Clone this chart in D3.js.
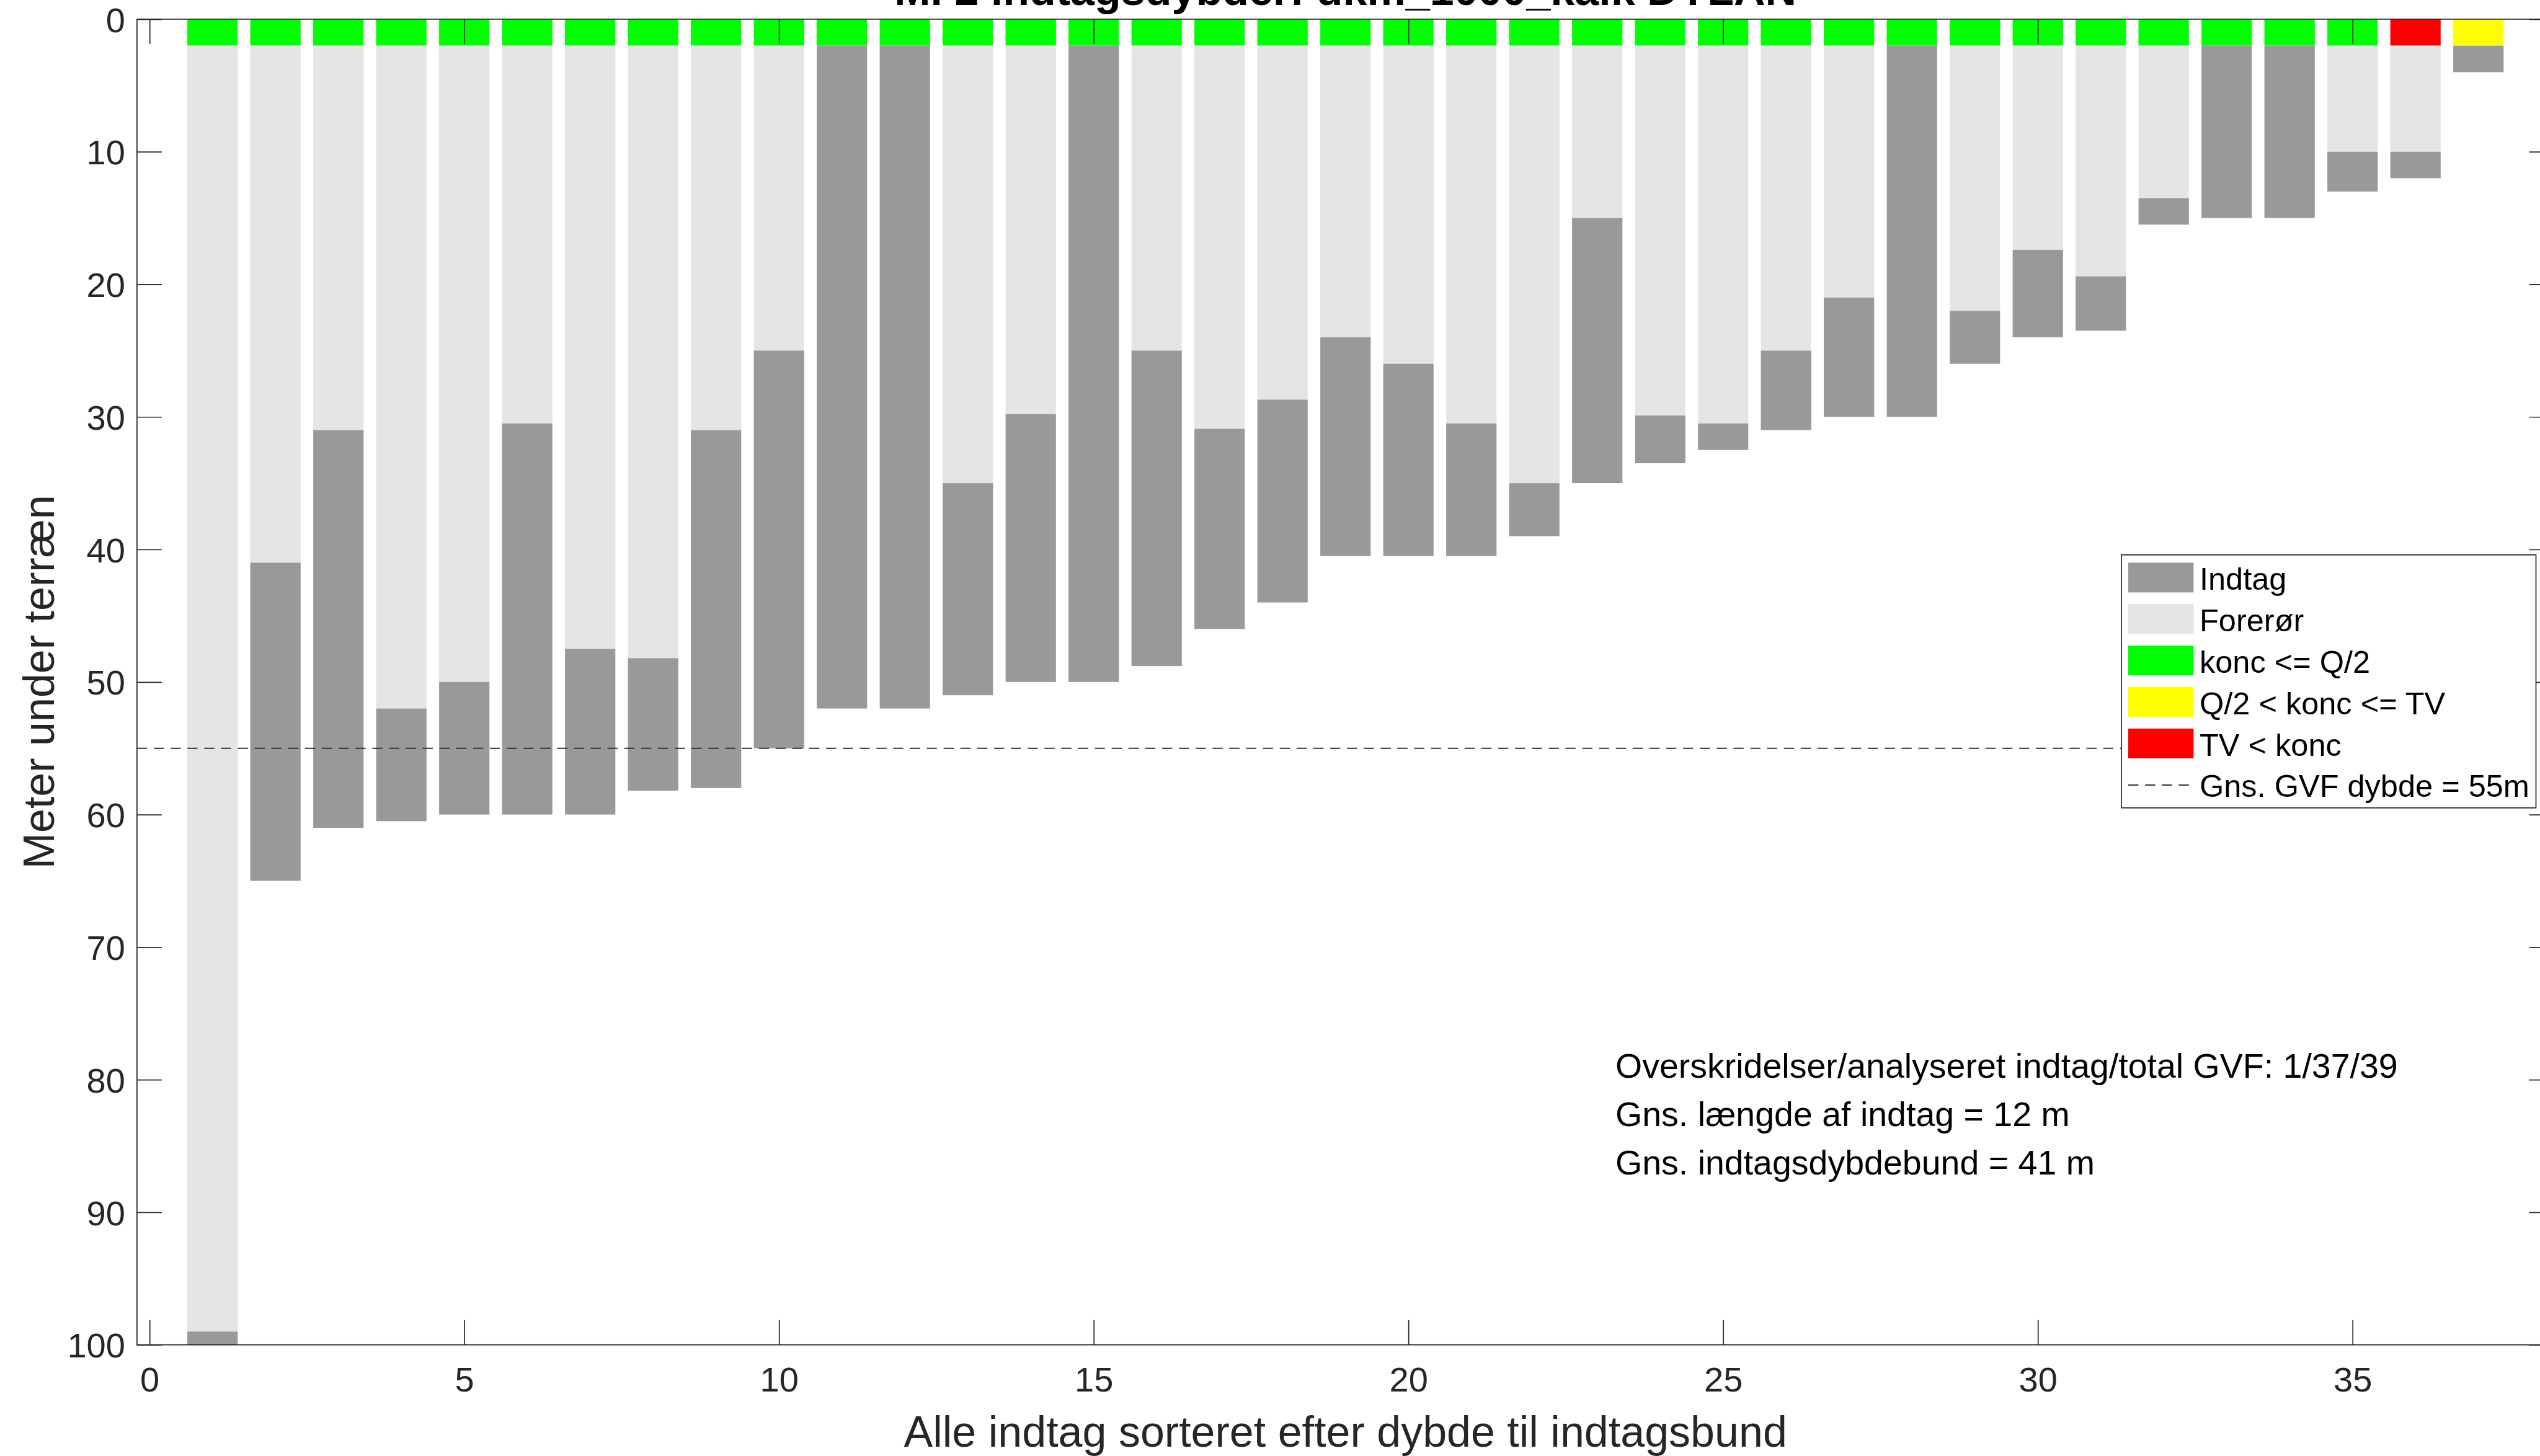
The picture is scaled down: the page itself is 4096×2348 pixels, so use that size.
<!DOCTYPE html>
<html>
<head>
<meta charset="utf-8">
<script src="https://cdn.jsdelivr.net/npm/d3@7"></script>
<style>
  html, body { margin: 0; padding: 0; background: #fff; overflow: hidden; }
  svg { display: block; font-family: "Liberation Sans", Arial, Helvetica, sans-serif; }
</style>
</head>
<body>
<svg id="chart" width="4096" height="2348"></svg>
<script>
// intake depths (m under terrain), sorted by depth to bottom of intake
var indtagTop = [99, 41, 31, 52, 50, 30.5, 47.5, 48.2, 31, 25,
                 2, 2, 35, 29.8, 2, 25, 30.9, 28.7, 24, 26,
                 30.5, 35, 15, 29.9, 30.5, 25, 21, 2, 22, 17.4,
                 19.4, 13.5, 2, 2, 10, 10, 2],
  indtagBund = [100, 65, 61, 60.5, 60, 60, 60, 58.2, 58, 55,
                52, 52, 51, 50, 50, 48.8, 46, 44, 40.5, 40.5,
                40.5, 39, 35, 33.5, 32.5, 31, 30, 30, 26, 24,
                23.5, 15.5, 15, 15, 13, 12, 4],
  // concentration class per intake (not "status": that name is taken by window)
  koncKlasse = ["q2", "q2", "q2", "q2", "q2", "q2", "q2", "q2", "q2", "q2",
                "q2", "q2", "q2", "q2", "q2", "q2", "q2", "q2", "q2", "q2",
                "q2", "q2", "q2", "q2", "q2", "q2", "q2", "q2", "q2", "q2",
                "q2", "q2", "q2", "q2", "q2", "tvover", "tv"],
  klasseBand = [0, 2],
  gvfDybde = 55;

var xTicks = [0, 5, 10, 15, 20, 25, 30, 35],
  yTicks = [0, 10, 20, 30, 40, 50, 60, 70, 80, 90, 100],
  xDomain = [-0.2, 38.2],
  yDomain = [0, 100];

var klasseKeys = ["q2", "tv", "tvover"],
  klasseColors = ["#00ff00", "#ffff00", "#ff0000"],
  legendLabels = ["Indtag", "Forerør", "konc <= Q/2", "Q/2 < konc <= TV", "TV < konc", "Gns. GVF dybde = 55m"],
  infoLines = ["Overskridelser/analyseret indtag/total GVF: 1/37/39",
               "Gns. længde af indtag = 12 m",
               "Gns. indtagsdybdebund = 41 m"],
  titleText = "M. 2 indtagsdybder: dkm_1000_kalk DYLAN",
  xLabel = "Alle indtag sorteret efter dybde til indtagsbund",
  yLabel = "Meter under terræn";

var col = {indtag: "#999999", forer: "#e5e5e5", axis: "#262626", dash: "#333333"},
  barWidth = 0.8,
  tick = 40;

var svg = d3.select("#chart");

var x = d3.scaleLinear().domain(xDomain).range([220.9, 4118.5]),
  y = d3.scaleLinear().domain(yDomain).range([30.9, 2168.7]),
  color = d3.scaleOrdinal().domain(klasseKeys).range(klasseColors);

var rows = indtagTop.map(function(top, i){
  return {nr: i + 1, top: top, bund: indtagBund[i], klasse: koncKlasse[i]};
});

var bx = function(d){ return x(d.nr - barWidth / 2); },
  bw = function(d){ return x(d.nr + barWidth / 2) - x(d.nr - barWidth / 2); };

// bars: class band, forerør, indtag
var bars = svg.append("g").attr("class", "bars");

bars.selectAll("rect.klasse")
  .data(rows).enter().append("rect")
  .attr("class", "klasse")
  .attr("x", bx).attr("width", bw)
  .attr("y", y(klasseBand[0]))
  .attr("height", y(klasseBand[1]) - y(klasseBand[0]))
  .attr("fill", function(d){ return color(d.klasse); });

bars.selectAll("rect.forer")
  .data(rows).enter().append("rect")
  .attr("class", "forer")
  .attr("x", bx).attr("width", bw)
  .attr("y", y(klasseBand[1]))
  .attr("height", function(d){ return Math.max(0, y(d.top) - y(klasseBand[1])); })
  .attr("fill", col.forer);

bars.selectAll("rect.indtag")
  .data(rows).enter().append("rect")
  .attr("class", "indtag")
  .attr("x", bx).attr("width", bw)
  .attr("y", function(d){ return y(d.top); })
  .attr("height", function(d){ return y(d.bund) - y(d.top); })
  .attr("fill", col.indtag);

// mean GVF depth
svg.append("line")
  .attr("x1", x(xDomain[0])).attr("x2", x(xDomain[1]))
  .attr("y1", y(gvfDybde)).attr("y2", y(gvfDybde))
  .attr("stroke", col.dash).attr("stroke-width", 2)
  .attr("stroke-dasharray", "16.4,10.7");

// axes, ticks pointing inward on all four sides
var styleAxis = function(g){
  g.select(".domain").remove();
  g.selectAll(".tick line").attr("stroke", col.axis).attr("stroke-width", 1.7);
  g.selectAll(".tick text").attr("fill", col.axis)
    .style("font-size", "56px").style("font-family", "Liberation Sans, Arial, sans-serif");
};

svg.append("g")
  .attr("transform", "translate(0," + y(yDomain[1]) + ")")
  .call(d3.axisBottom(x).tickValues(xTicks).tickSize(-tick).tickPadding(36))
  .call(styleAxis);

svg.append("g")
  .attr("transform", "translate(0," + y(yDomain[0]) + ")")
  .call(d3.axisTop(x).tickValues(xTicks).tickSize(-tick).tickFormat(""))
  .call(styleAxis);

svg.append("g")
  .attr("transform", "translate(" + x(xDomain[0]) + ",0)")
  .call(d3.axisLeft(y).tickValues(yTicks).tickSize(-tick).tickPadding(19))
  .call(styleAxis)
  .selectAll(".tick text").attr("dy", "0.36em");

svg.append("g")
  .attr("transform", "translate(" + x(xDomain[1]) + ",0)")
  .call(d3.axisRight(y).tickValues(yTicks).tickSize(-tick).tickFormat(""))
  .call(styleAxis);

// axes box
svg.append("rect")
  .attr("x", x(xDomain[0])).attr("y", y(yDomain[0]))
  .attr("width", x(xDomain[1]) - x(xDomain[0]))
  .attr("height", y(yDomain[1]) - y(yDomain[0]))
  .attr("fill", "none").attr("stroke", col.axis).attr("stroke-width", 1.7);

// labels and title (title is clipped at the top, as in the original figure)
svg.append("text")
  .attr("x", (x(xDomain[0]) + x(xDomain[1])) / 2).attr("y", 2333)
  .attr("text-anchor", "middle").attr("fill", col.axis)
  .style("font-size", "70px")
  .text(xLabel);

svg.append("text")
  .attr("transform", "translate(87," + (y(yDomain[0]) + y(yDomain[1])) / 2 + ") rotate(-90)")
  .attr("text-anchor", "middle").attr("fill", col.axis)
  .style("font-size", "70px")
  .text(yLabel);

svg.append("text")
  .attr("x", (x(xDomain[0]) + x(xDomain[1])) / 2).attr("y", 8)
  .attr("text-anchor", "middle").attr("fill", "#000")
  .style("font-size", "70px").style("font-weight", "bold")
  .text(titleText);

// summary text
svg.append("g").selectAll("text")
  .data(infoLines).enter().append("text")
  .attr("x", 2605)
  .attr("y", function(d, i){ return 1738 + i * 78; })
  .attr("fill", "#000")
  .style("font-size", "55.5px")
  .text(function(d){ return d; });

// legend
var legend = svg.append("g").attr("class", "legend"),
  legendFill = [col.indtag, col.forer].concat(klasseColors),
  rowY = function(i){ return 931.4 + i * 66.9; };

legend.append("rect")
  .attr("x", 3421).attr("y", 894.8)
  .attr("width", 668.5).attr("height", 408)
  .attr("fill", "#fff").attr("stroke", col.axis).attr("stroke-width", 1.7);

legend.selectAll("rect.swatch")
  .data(legendFill).enter().append("rect")
  .attr("class", "swatch")
  .attr("x", 3432).attr("width", 105.4)
  .attr("y", function(d, i){ return rowY(i) - 24; })
  .attr("height", 48)
  .attr("fill", function(d){ return d; });

legend.append("line")
  .attr("x1", 3432).attr("x2", 3537.4)
  .attr("y1", rowY(5)).attr("y2", rowY(5))
  .attr("stroke", col.dash).attr("stroke-width", 2)
  .attr("stroke-dasharray", "16.4,10.7");

legend.selectAll("text")
  .data(legendLabels).enter().append("text")
  .attr("x", 3547)
  .attr("y", function(d, i){ return rowY(i) + 19.5; })
  .attr("fill", "#000")
  .style("font-size", "50.5px")
  .text(function(d){ return d; });
</script>
</body>
</html>
